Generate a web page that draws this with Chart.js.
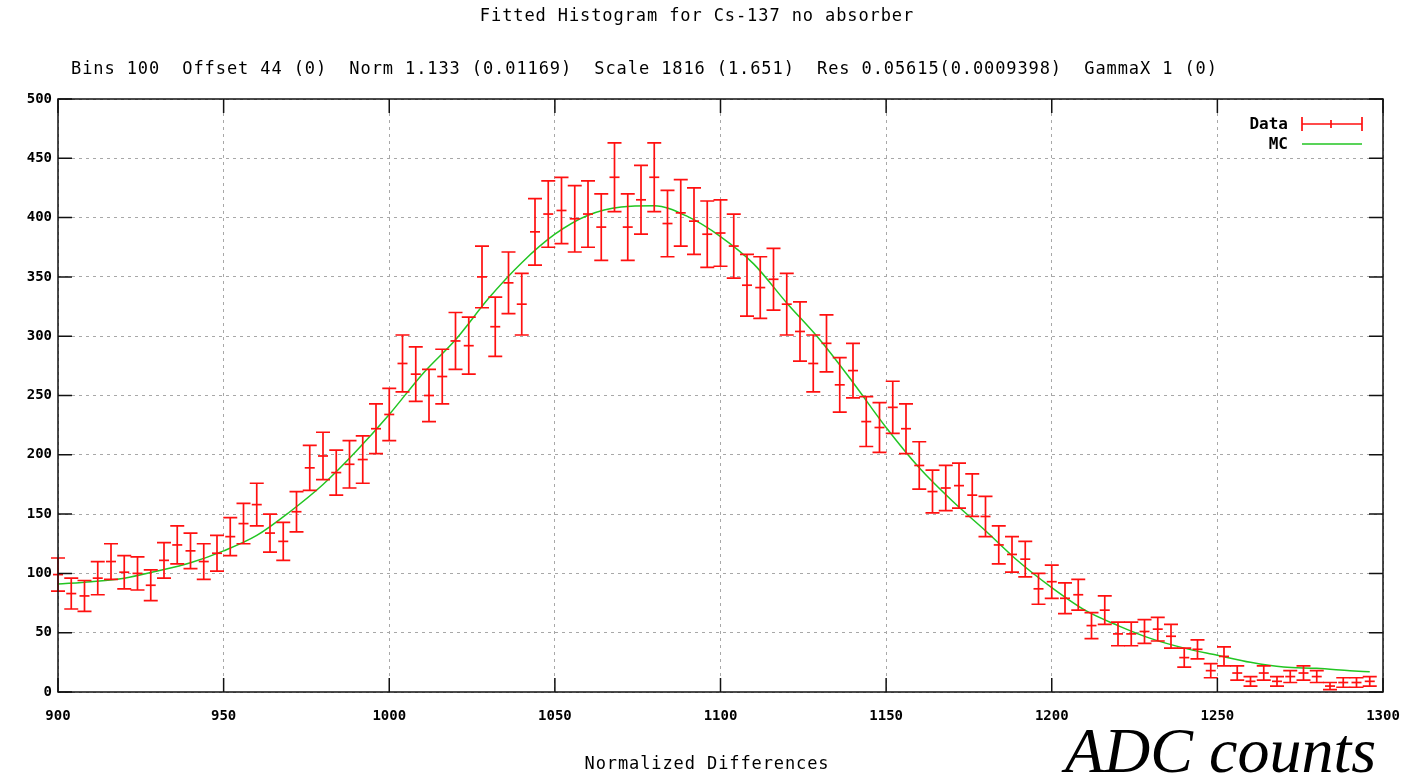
<!DOCTYPE html>
<html lang="en">
<head>
<meta charset="UTF-8" />
<title>Fitted Histogram for Cs-137 no absorber</title>
<script src="https://cdn.jsdelivr.net/npm/chart.js"></script>
<style>
  html, body { margin: 0; padding: 0; background: #ffffff; }
  #wrap { width: 1413px; height: 775px; }
</style>
</head>
<body>
<div id="wrap"><canvas id="fitChart" width="1413" height="775"></canvas></div>
<script>
  // bin centres along the x axis
  const binX = [
    900, 904, 908, 912, 916, 920, 924, 928, 932, 936,
    940, 944, 948, 952, 956, 960, 964, 968, 972, 976,
    980, 984, 988, 992, 996, 1000, 1004, 1008, 1012, 1016,
    1020, 1024, 1028, 1032, 1036, 1040, 1044, 1048, 1052, 1056,
    1060, 1064, 1068, 1072, 1076, 1080, 1084, 1088, 1092, 1096,
    1100, 1104, 1108, 1112, 1116, 1120, 1124, 1128, 1132, 1136,
    1140, 1144, 1148, 1152, 1156, 1160, 1164, 1168, 1172, 1176,
    1180, 1184, 1188, 1192, 1196, 1200, 1204, 1208, 1212, 1216,
    1220, 1224, 1228, 1232, 1236, 1240, 1244, 1248, 1252, 1256,
    1260, 1264, 1268, 1272, 1276, 1280, 1284, 1288, 1292, 1296
  ];

  // measured counts per bin
  const counts = [
    99, 83, 81, 96, 110, 101, 100, 90, 111, 124,
    119, 110, 117, 131, 142, 158, 134, 127, 152, 189,
    199, 185, 192, 196, 222, 234, 277, 268, 250, 266,
    296, 292, 350, 308, 345, 327, 388, 403, 406, 399,
    403, 392, 434, 392, 415, 434, 395, 404, 397, 386,
    387, 376, 343, 341, 348, 327, 304, 277, 294, 259,
    271, 228, 223, 240, 222, 191, 169, 172, 174, 166,
    148, 124, 116, 112, 87, 93, 79, 82, 56, 69,
    49, 49, 51, 53, 47, 29, 36, 18, 30, 16,
    9, 16, 9, 13, 16, 13, 5, 8, 8, 9
  ];

  // half length of each error bar
  const countErr = [
    14, 13, 13, 14, 15, 14, 14, 13, 15, 16,
    15, 15, 15, 16, 17, 18, 16, 16, 17, 19,
    20, 19, 20, 20, 21, 22, 24, 23, 22, 23,
    24, 24, 26, 25, 26, 26, 28, 28, 28, 28,
    28, 28, 29, 28, 29, 29, 28, 28, 28, 28,
    28, 27, 26, 26, 26, 26, 25, 24, 24, 23,
    23, 21, 21, 22, 21, 20, 18, 19, 19, 18,
    17, 16, 15, 15, 13, 14, 13, 13, 11, 12,
    10, 10, 10, 10, 10, 8, 8, 6, 8, 6,
    4, 6, 4, 5, 6, 5, 3, 4, 4, 4
  ];

  // Monte Carlo curve
  const mcX = [
    900, 910, 920, 930, 940, 950, 960, 970, 980, 990,
    1000, 1010, 1020, 1030, 1040, 1050, 1060, 1070, 1080, 1090,
    1100, 1110, 1120, 1130, 1140, 1150, 1160, 1170, 1180, 1190,
    1200, 1210, 1220, 1230, 1240, 1250, 1260, 1270, 1280, 1290, 1296
  ];
  const mcY = [
    91, 93, 96, 102, 109, 119, 132, 152, 175, 203,
    234, 268, 297, 332, 362, 386, 402, 409, 410, 401,
    384, 361, 328, 297, 261, 223, 189, 161, 136, 110,
    88, 69, 56, 45, 37, 31, 25, 21, 20, 18, 17
  ];

  const titleText = "Fitted Histogram for Cs-137 no absorber";
  const fitText = "Bins 100  Offset 44 (0)  Norm 1.133 (0.01169)  Scale 1816 (1.651)  Res 0.05615(0.0009398)  GammaX 1 (0)";
  const xAxisText = "Normalized Differences";
  const unitText = "ADC counts";

  const RED = "#ff1010";
  const GREEN = "#22c522";
  const MONO = '"DejaVu Sans Mono", "Liberation Mono", monospace';

  // vertical error bars with caps
  const errorBars = {
    id: "errorBars",
    afterDatasetsDraw(chart) {
      const ctx = chart.ctx;
      const xs = chart.scales.x, ys = chart.scales.y;
      ctx.save();
      ctx.strokeStyle = RED;
      ctx.lineWidth = 1.7;
      for (let i = 0; i < binX.length; i++) {
        const x = xs.getPixelForValue(binX[i]);
        const yTop = ys.getPixelForValue(counts[i] + countErr[i]);
        const yBot = ys.getPixelForValue(Math.max(counts[i] - countErr[i], 0));
        ctx.beginPath();
        ctx.moveTo(x, yTop); ctx.lineTo(x, yBot);
        ctx.moveTo(x - 7, yTop); ctx.lineTo(x + 7, yTop);
        ctx.moveTo(x - 7, yBot); ctx.lineTo(x + 7, yBot);
        ctx.stroke();
      }
      ctx.restore();
    }
  };

  // border, inward ticks, titles, key and axis caption
  const decorations = {
    id: "decorations",
    afterDraw(chart) {
      const ctx = chart.ctx;
      const a = chart.chartArea;
      const xs = chart.scales.x, ys = chart.scales.y;
      ctx.save();

      ctx.strokeStyle = "#111111";
      ctx.lineWidth = 1.5;
      ctx.strokeRect(a.left, a.top, a.right - a.left, a.bottom - a.top);
      ctx.beginPath();
      ys.ticks.forEach(t => {
        const y = ys.getPixelForValue(t.value);
        ctx.moveTo(a.left, y); ctx.lineTo(a.left + 14, y);
        ctx.moveTo(a.right, y); ctx.lineTo(a.right - 14, y);
      });
      xs.ticks.forEach(t => {
        const x = xs.getPixelForValue(t.value);
        ctx.moveTo(x, a.bottom); ctx.lineTo(x, a.bottom - 14);
        ctx.moveTo(x, a.top); ctx.lineTo(x, a.top + 14);
      });
      ctx.stroke();

      ctx.fillStyle = "#000000";
      ctx.textBaseline = "middle";
      ctx.font = "17px " + MONO;
      if ("letterSpacing" in ctx) ctx.letterSpacing = "0.9px";
      ctx.textAlign = "center";
      ctx.fillText(titleText, 697, 17);
      ctx.fillText(xAxisText, 707, 765);
      ctx.textAlign = "left";
      ctx.fillText(fitText, 71, 70);
      if ("letterSpacing" in ctx) ctx.letterSpacing = "0px";

      // key
      ctx.font = "bold 16px " + MONO;
      ctx.textAlign = "right";
      ctx.fillText("Data", 1288, 125);
      ctx.fillText("MC", 1288, 145);
      ctx.strokeStyle = RED;
      ctx.lineWidth = 1.7;
      ctx.beginPath();
      ctx.moveTo(1302, 124); ctx.lineTo(1362, 124);
      ctx.moveTo(1302, 117); ctx.lineTo(1302, 131);
      ctx.moveTo(1362, 117); ctx.lineTo(1362, 131);
      ctx.moveTo(1331, 120); ctx.lineTo(1331, 128);
      ctx.stroke();
      ctx.strokeStyle = GREEN;
      ctx.lineWidth = 1.5;
      ctx.beginPath();
      ctx.moveTo(1302, 144); ctx.lineTo(1362, 144);
      ctx.stroke();

      ctx.font = 'italic 64px "Liberation Serif", "DejaVu Serif", serif';
      ctx.textAlign = "left";
      ctx.textBaseline = "alphabetic";
      ctx.fillText(unitText, 1065, 772);
      ctx.restore();
    }
  };

  const dataPoints = binX.map((x, i) => ({ x: x, y: counts[i] }));
  const mcPoints = mcX.map((x, i) => ({ x: x, y: mcY[i] }));

  const tickFont = { family: MONO, size: 14, weight: "bold" };

  new Chart(document.getElementById("fitChart"), {
    type: "scatter",
    data: {
      datasets: [
        {
          label: "MC",
          data: mcPoints,
          showLine: true,
          borderColor: GREEN,
          borderWidth: 1.5,
          pointRadius: 0,
          cubicInterpolationMode: "monotone",
          order: 2
        },
        {
          label: "Data",
          data: dataPoints,
          showLine: false,
          pointStyle: "line",
          pointRadius: 5,
          borderColor: RED,
          backgroundColor: RED,
          borderWidth: 1.7,
          clip: false,
          order: 1
        }
      ]
    },
    options: {
      responsive: false,
      animation: false,
      layout: { padding: { top: 99, right: 30, left: 0, bottom: 0 } },
      plugins: {
        legend: { display: false },
        title: { display: false },
        tooltip: { enabled: false }
      },
      scales: {
        x: {
          type: "linear",
          min: 900,
          max: 1300,
          afterFit(scale) {
            scale.height = 83;
            scale.paddingLeft = 0;
            scale.paddingRight = 0;
          },
          ticks: {
            stepSize: 50,
            color: "#000000",
            font: tickFont,
            padding: 16,
            maxRotation: 0,
            callback: v => String(v)
          },
          grid: { color: "#a8a8a8", lineWidth: 1, drawTicks: false },
          border: { display: false, dash: [3, 4] }
        },
        y: {
          min: 0,
          max: 500,
          afterFit(scale) {
            scale.width = 58;
            scale.paddingTop = 0;
            scale.paddingBottom = 0;
          },
          ticks: {
            stepSize: 50,
            color: "#000000",
            font: tickFont,
            padding: 6,
            callback: v => String(v)
          },
          grid: { color: "#a8a8a8", lineWidth: 1, drawTicks: false },
          border: { display: false, dash: [3, 4] }
        }
      }
    },
    plugins: [errorBars, decorations]
  });
</script>
</body>
</html>
